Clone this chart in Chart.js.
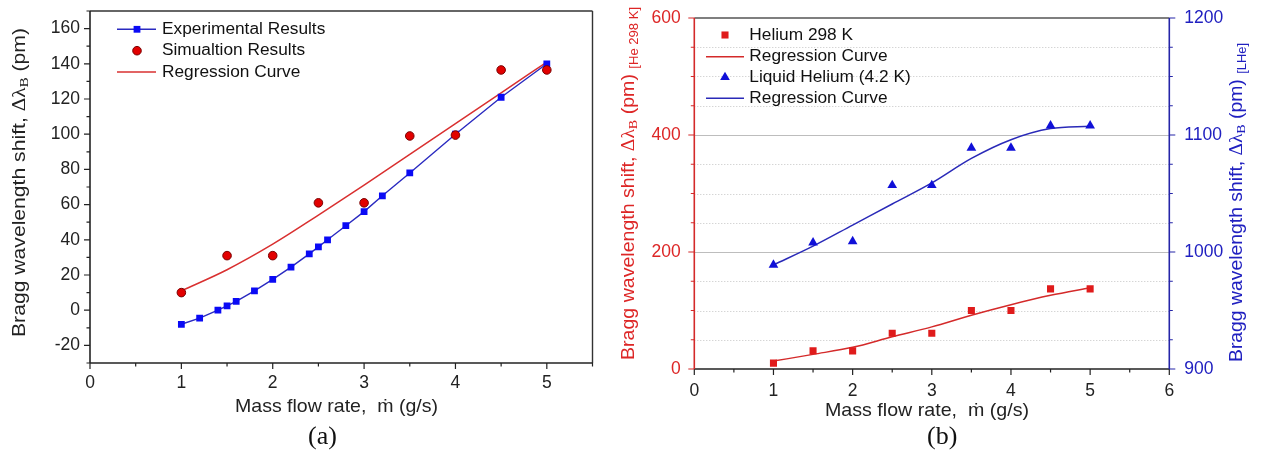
<!DOCTYPE html>
<html>
<head>
<meta charset="utf-8">
<script src="https://cdn.jsdelivr.net/npm/chart.js@4.4.1/dist/chart.umd.min.js"></script>
<style>
  html, body { margin: 0; padding: 0; background: #fff; }
  #wrap { position: relative; width: 1261px; height: 457px; overflow: hidden; }
  #chartA { position: absolute; left: 0; top: 0; }
  #chartB { position: absolute; left: 600px; top: 0; }
  .cap { position: absolute; font-family: 'Liberation Serif', 'Times New Roman', serif; font-size: 26px; line-height: 30px; color: #111; }
</style>
</head>
<body>
<div id="wrap">
  <canvas id="chartA" width="600" height="425"></canvas>
  <canvas id="chartB" width="661" height="425"></canvas>
  <div class="cap" style="left:308px;top:421px">(a)</div>
  <div class="cap" style="left:927px;top:421px">(b)</div>
</div>
<script>
// (a) mass flow rate vs Bragg shift
const flowExp = [1, 1.2, 1.4, 1.5, 1.6, 1.8, 2, 2.2, 2.4, 2.5, 2.6, 2.8, 3, 3.2, 3.5, 4, 4.5, 5];
const shiftExp = [-8, -4.5, 0, 2.5, 5, 11, 17.5, 24.5, 32, 36, 40, 48, 56, 65, 78, 100, 121, 140];
const flowSim = [1, 1.5, 2, 2.5, 3, 3.5, 4, 4.5, 5];
const shiftSim = [10, 31, 31, 61, 61, 99, 99.5, 136.5, 136.5];
const shiftFitA = [11, 23, 37.5, 54, 71, 88.5, 106, 123.5, 141];

// (b) helium 298 K (left axis) and liquid helium (right axis)
const flowHe = [1, 1.5, 2, 2.5, 3, 3.5, 4, 4.5, 5];
const shiftHe298 = [10, 31, 31, 61, 61, 100, 100, 137, 137];
const shiftFitHe298 = [13.5, 25, 37, 55, 72, 92, 110, 126, 139];
const shiftLHe = [989, 1008, 1009, 1057, 1057, 1089, 1089, 1108, 1108];
const shiftFitLHe = [989, 1005, 1023, 1041, 1059, 1080, 1096, 1105.5, 1107.5];

// tick labels
const xTicksA = [0, 1, 2, 3, 4, 5];
const yTicksA = [-20, 0, 20, 40, 60, 80, 100, 120, 140, 160];
const xTicksB = [0, 1, 2, 3, 4, 5, 6];
const yTicksB = [0, 200, 400, 600];
const y2TicksB = [900, 1000, 1100, 1200];

const sans = "'Liberation Sans', Arial, sans-serif";
const serif = "'Liberation Serif', 'Times New Roman', serif";
const RED = '#e01b1b';
const BLUE = '#1010d8';

function pts(xs, ys) {
  return xs.map((x, i) => ({ x: x, y: ys[i] }));
}

function steps(from, to, step) {
  const out = [];
  for (let v = from; v <= to + 1e-9; v += step) out.push(+v.toFixed(6));
  return out;
}

//DRAW TICK MARKS ON ONE SIDE OF THE PLOT BOX
function drawTicks(chart, scale, values, len, color, side) {
  const ctx = chart.ctx, area = chart.chartArea;
  ctx.save();
  ctx.strokeStyle = color;
  ctx.lineWidth = 1.2;
  ctx.beginPath();
  values.forEach(v => {
    const p = scale.getPixelForValue(v);
    if (side === 'bottom') { ctx.moveTo(p, area.bottom); ctx.lineTo(p, area.bottom + len); }
    if (side === 'left') { ctx.moveTo(area.left, p); ctx.lineTo(area.left - len, p); }
    if (side === 'right') { ctx.moveTo(area.right, p); ctx.lineTo(area.right + len, p); }
  });
  ctx.stroke();
  ctx.restore();
}

//TEXT WITH SUBSCRIPTS, STRETCHED TO A GIVEN LENGTH
function richText(ctx, parts, cx, cy, rot, target, color) {
  ctx.save();
  ctx.translate(cx, cy);
  ctx.rotate(rot);
  let w = 0;
  parts.forEach(p => { ctx.font = p.font; p.w = ctx.measureText(p.text).width; w += p.w; });
  ctx.scale(target ? target / w : 1, 1);
  ctx.fillStyle = color;
  ctx.textBaseline = 'middle';
  ctx.textAlign = 'left';
  let x = -w / 2;
  parts.forEach(p => { ctx.font = p.font; ctx.fillText(p.text, x, p.dy || 0); x += p.w; });
  ctx.restore();
}

function marker(ctx, style, x, y, r, fill, stroke, bw) {
  ctx.save();
  ctx.fillStyle = fill;
  ctx.strokeStyle = stroke;
  ctx.lineWidth = bw;
  ctx.beginPath();
  if (style === 'rect') {
    const s = Math.SQRT1_2 * r;
    ctx.rect(x - s, y - s, 2 * s, 2 * s);
  } else if (style === 'triangle') {
    for (let k = 0; k < 3; k++) {
      const a = k * 2 * Math.PI / 3;
      const px = x + Math.sin(a) * r, py = y - Math.cos(a) * r;
      k ? ctx.lineTo(px, py) : ctx.moveTo(px, py);
    }
    ctx.closePath();
  } else {
    ctx.arc(x, y, r, 0, Math.PI * 2);
  }
  ctx.fill();
  if (bw > 0) ctx.stroke();
  ctx.restore();
}

//LEGEND INSIDE THE PLOT
function drawLegend(chart, items, o) {
  const ctx = chart.ctx;
  items.forEach((it, i) => {
    const ds = chart.data.datasets[it.ds];
    const y = o.rows[i];
    if (it.line) {
      ctx.save();
      ctx.strokeStyle = ds.borderColor;
      ctx.lineWidth = ds.borderWidth;
      ctx.beginPath();
      ctx.moveTo(o.x1, y);
      ctx.lineTo(o.x2, y);
      ctx.stroke();
      ctx.restore();
    }
    if (it.mark) {
      marker(ctx, ds.pointStyle, o.mx, y, ds.pointRadius, ds.pointBackgroundColor, ds.pointBorderColor, ds.pointBorderWidth);
    }
    ctx.save();
    ctx.font = o.font;
    ctx.fillStyle = '#111';
    ctx.textBaseline = 'middle';
    ctx.fillText(ds.label, o.tx, y);
    ctx.restore();
  });
}

function boxLine(ctx, x1, y1, x2, y2, color, w) {
  ctx.save();
  ctx.strokeStyle = color;
  ctx.lineWidth = w;
  ctx.beginPath();
  ctx.moveTo(x1, y1);
  ctx.lineTo(x2, y2);
  ctx.stroke();
  ctx.restore();
}

const decorA = {
  id: 'decorA',
  afterDraw(chart) {
    const ctx = chart.ctx, a = chart.chartArea, s = chart.scales;
    boxLine(ctx, a.left, a.top, a.right, a.top, '#333', 1.4);
    boxLine(ctx, a.right, a.top, a.right, a.bottom, '#333', 1.4);
    boxLine(ctx, a.left, a.bottom, a.right, a.bottom, '#222', 1.6);
    boxLine(ctx, a.left, a.top, a.left, a.bottom, '#222', 1.6);
    drawTicks(chart, s.x, xTicksA, 6, '#222', 'bottom');
    drawTicks(chart, s.x, steps(0.5, 5.5, 1), 3.5, '#222', 'bottom');
    drawTicks(chart, s.y, yTicksA, 6, '#222', 'left');
    drawTicks(chart, s.y, steps(-30, 170, 20), 3.5, '#222', 'left');
    richText(ctx, [
      { text: 'Bragg wavelength shift, ', font: '18px ' + sans },
      { text: 'Δλ', font: '18px ' + serif },
      { text: 'B', font: '13px ' + serif, dy: 5 },
      { text: ' (pm)', font: '18px ' + sans }
    ], 20, 182.5, -Math.PI / 2, 309, '#222');
    richText(ctx, [{ text: 'Mass flow rate,  ṁ (g/s)', font: '19px ' + sans }], 336.5, 406.5, 0, 203, '#222');
    drawLegend(chart, [
      { ds: 0, line: true, mark: true },
      { ds: 1, mark: true },
      { ds: 2, line: true }
    ], { rows: [29.3, 50.7, 72], x1: 117, x2: 156, mx: 137, tx: 162, font: '17.3px ' + sans });
  }
};

const decorB = {
  id: 'decorB',
  beforeDatasetsDraw(chart) {
    const ctx = chart.ctx, a = chart.chartArea, y = chart.scales.y;
    steps(50, 550, 50).forEach(v => {
      const p = Math.round(y.getPixelForValue(v)) + 0.5;
      ctx.save();
      if (v % 200 === 0) {
        ctx.strokeStyle = '#bdbdbd';
        ctx.lineWidth = 1.2;
      } else {
        ctx.strokeStyle = '#c4c4c4';
        ctx.lineWidth = 1;
        ctx.setLineDash([1, 2]);
      }
      ctx.beginPath();
      ctx.moveTo(a.left, p);
      ctx.lineTo(a.right, p);
      ctx.stroke();
      ctx.restore();
    });
  },
  afterDraw(chart) {
    const ctx = chart.ctx, a = chart.chartArea, s = chart.scales;
    boxLine(ctx, a.left, a.top, a.right, a.top, '#555', 1.4);
    boxLine(ctx, a.left, a.bottom, a.right, a.bottom, '#222', 1.6);
    boxLine(ctx, a.left, a.top, a.left, a.bottom, '#d42a2a', 1.6);
    boxLine(ctx, a.right, a.top, a.right, a.bottom, '#2525a8', 1.6);
    drawTicks(chart, s.x, xTicksB, 6, '#222', 'bottom');
    drawTicks(chart, s.x, steps(0.5, 5.5, 1), 3.5, '#222', 'bottom');
    drawTicks(chart, s.y, yTicksB, 6, '#d42a2a', 'left');
    drawTicks(chart, s.y, steps(50, 550, 50).filter(v => v % 200), 3.5, '#d42a2a', 'left');
    drawTicks(chart, s.y2, y2TicksB, 6, '#2525a8', 'right');
    drawTicks(chart, s.y2, steps(925, 1175, 25).filter(v => v % 100), 3.5, '#2525a8', 'right');
    richText(ctx, [
      { text: 'Bragg wavelength shift, ', font: '18px ' + sans },
      { text: 'Δλ', font: '18px ' + serif },
      { text: 'B', font: '13px ' + serif, dy: 5 },
      { text: ' (pm) ', font: '18px ' + sans },
      { text: '[He 298 K]', font: '12px ' + sans, dy: 6 }
    ], 29, 183.5, -Math.PI / 2, 353, '#dd2626');
    richText(ctx, [
      { text: 'Bragg wavelength shift, ', font: '18px ' + sans },
      { text: 'Δλ', font: '18px ' + serif },
      { text: 'B', font: '13px ' + serif, dy: 5 },
      { text: ' (pm) ', font: '18px ' + sans },
      { text: '[LHe]', font: '12px ' + sans, dy: 6 }
    ], 637, 202.5, -Math.PI / 2, 319, '#2020c0');
    richText(ctx, [{ text: 'Mass flow rate,  ṁ (g/s)', font: '19px ' + sans }], 327, 411, 0, 204, '#222');
    drawLegend(chart, [
      { ds: 0, mark: true },
      { ds: 1, line: true },
      { ds: 2, mark: true },
      { ds: 3, line: true }
    ], { rows: [35, 56.7, 77.3, 98.3], x1: 106, x2: 144, mx: 125, tx: 149.3, font: '17.3px ' + sans });
  }
};

// fixed box sizes, no extra label overflow padding
function fitTo(size, vertical) {
  return s => {
    if (vertical) s.width = size; else s.height = size;
    s.paddingTop = 0; s.paddingBottom = 0; s.paddingLeft = 0; s.paddingRight = 0;
  };
}

function axis(min, max, tickValues, color, padding, opts) {
  return Object.assign({
    type: 'linear',
    min: min,
    max: max,
    grid: { display: false, drawTicks: false },
    border: { display: false },
    ticks: { font: { family: sans, size: 17.5 }, color: color, padding: padding, callback: v => String(v) },
    afterBuildTicks: s => { s.ticks = tickValues.map(v => ({ value: v })); }
  }, opts);
}

const baseOptions = {
  responsive: false,
  animation: false,
  events: [],
  plugins: { legend: { display: false }, tooltip: { enabled: false } }
};

document.addEventListener('DOMContentLoaded', () => {
  new Chart(document.getElementById('chartA'), {
    type: 'scatter',
    data: {
      datasets: [
        {
          label: 'Experimental Results', data: pts(flowExp, shiftExp), showLine: true, order: 1,
          borderColor: '#2a2ac0', borderWidth: 1.4, pointStyle: 'rect', pointRadius: 4.8,
          pointBackgroundColor: '#0a0af5', pointBorderColor: '#0a0af5', pointBorderWidth: 0
        },
        {
          label: 'Simualtion Results', data: pts(flowSim, shiftSim), order: 0,
          pointStyle: 'circle', pointRadius: 4.3,
          pointBackgroundColor: '#e20000', pointBorderColor: '#7a0000', pointBorderWidth: 1
        },
        {
          label: 'Regression Curve', data: pts(flowSim, shiftFitA), showLine: true, order: 2,
          pointRadius: 0, borderColor: '#d93030', borderWidth: 1.5, cubicInterpolationMode: 'monotone'
        }
      ]
    },
    options: Object.assign({}, baseOptions, {
      layout: { padding: { top: 11, right: 7.5, left: 0, bottom: 0 } },
      scales: {
        x: axis(0, 5.5, xTicksA, '#222', 10, { afterFit: fitTo(62, false) }),
        y: axis(-30, 170, yTicksA, '#222', 10, { afterFit: fitTo(90, true) })
      }
    }),
    plugins: [decorA]
  });

  new Chart(document.getElementById('chartB'), {
    type: 'scatter',
    data: {
      datasets: [
        {
          label: 'Helium 298 K', data: pts(flowHe, shiftHe298), yAxisID: 'y', order: 0,
          pointStyle: 'rect', pointRadius: 5,
          pointBackgroundColor: RED, pointBorderColor: RED, pointBorderWidth: 0
        },
        {
          label: 'Regression Curve', data: pts(flowHe, shiftFitHe298), yAxisID: 'y', showLine: true, order: 1,
          pointRadius: 0, borderColor: '#d42a2a', borderWidth: 1.5, cubicInterpolationMode: 'monotone'
        },
        {
          label: 'Liquid Helium (4.2 K)', data: pts(flowHe, shiftLHe), yAxisID: 'y2', order: 0,
          pointStyle: 'triangle', pointRadius: 5.6,
          pointBackgroundColor: BLUE, pointBorderColor: BLUE, pointBorderWidth: 0
        },
        {
          label: 'Regression Curve', data: pts(flowHe, shiftFitLHe), yAxisID: 'y2', showLine: true, order: 1,
          pointRadius: 0, borderColor: '#2a2ab8', borderWidth: 1.5, cubicInterpolationMode: 'monotone'
        }
      ]
    },
    options: Object.assign({}, baseOptions, {
      layout: { padding: { top: 18, right: 0, left: 0, bottom: 0 } },
      scales: {
        x: axis(0, 6, xTicksB, '#222', 12, { afterFit: fitTo(56, false) }),
        y: axis(0, 600, yTicksB, '#dd2626', 13.5, { position: 'left', afterFit: fitTo(94.3, true) }),
        y2: axis(900, 1200, y2TicksB, '#2020c0', 15, { position: 'right', afterFit: fitTo(91.7, true) })
      }
    }),
    plugins: [decorB]
  });
});
</script>
</body>
</html>
